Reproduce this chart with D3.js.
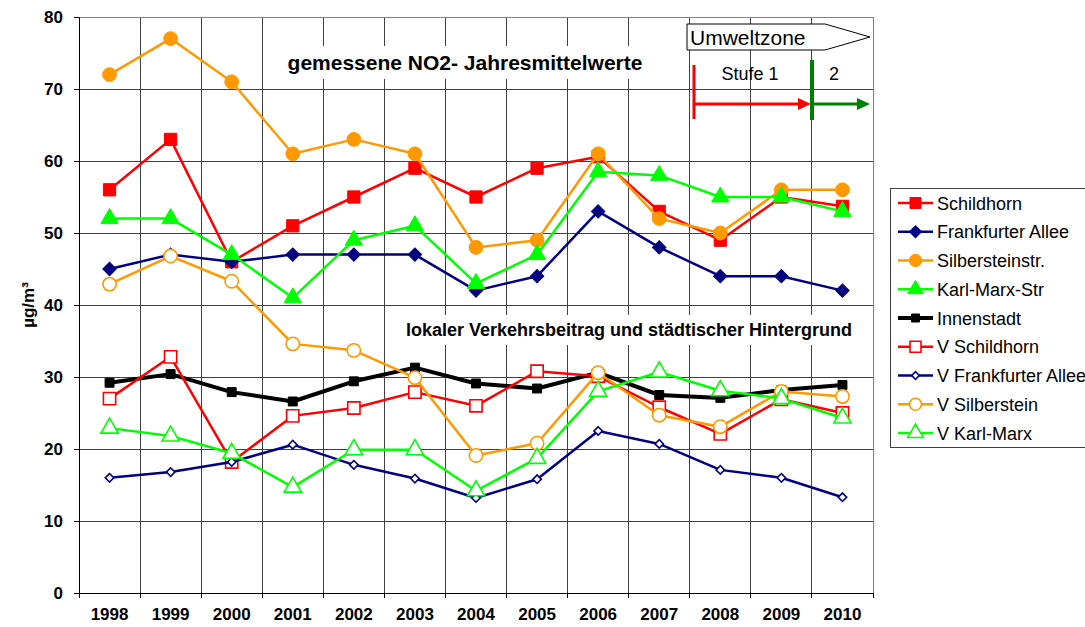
<!DOCTYPE html>
<html><head><meta charset="utf-8">
<script src="https://cdn.jsdelivr.net/npm/d3@7"></script>
<style>body{margin:0;background:#fff;font-family:"Liberation Sans",Arial,sans-serif}</style>
</head><body><svg id="c" width="1085" height="627"></svg>
<script>
const years = ["1998","1999","2000","2001","2002","2003","2004","2005","2006","2007","2008","2009","2010"];
const yTicks = [0,10,20,30,40,50,60,70,80];
const schildhorn   = [56,63,46,51,55,59,55,59,60.6,53,49,55,53.7];
const frankfurter  = [45,47,46,47,47,47,42,44,53,48,44,44,42];
const silberstein  = [72,77,71,61,63,61,48,49,61,52,50,56,56];
const karlMarx     = [52,52,47,41,49,51,43,47,58.5,58,55,55,53];
const innenstadt   = [29.2,30.4,27.9,26.6,29.4,31.3,29.1,28.4,30.6,27.5,27.1,28.2,28.9];
const vSchildhorn  = [27.0,32.8,18.2,24.6,25.7,27.9,26.0,30.8,30.1,25.8,22.1,26.9,25.0];
const vFrankfurter = [16.0,16.8,18.2,20.6,17.8,15.9,13.2,15.8,22.5,20.7,17.1,16.0,13.3];
const vSilberstein = [42.9,46.8,43.3,34.6,33.7,29.9,19.1,20.8,30.6,24.7,23.1,28.0,27.3];
const vKarlMarx    = [22.9,21.8,19.4,14.7,19.9,19.9,14.2,18.7,28.0,30.7,28.1,27.0,24.3];
const seriesNames = ["Schildhorn","Frankfurter Allee","Silbersteinstr.","Karl-Marx-Str","Innenstadt","V Schildhorn","V Frankfurter Allee","V Silberstein","V Karl-Marx"];
const seriesValues = [schildhorn,frankfurter,silberstein,karlMarx,innenstadt,vSchildhorn,vFrankfurter,vSilberstein,vKarlMarx];
const seriesColors = ["#FF0000","#000080","#FF9900","#00FF00","#000000","#FF0000","#000080","#FF9900","#00FF00"];
const seriesShapes = ["square","diamond","circle","triangle","square","square","diamond","circle","triangle"];
const seriesFilled = [true,true,true,true,true,false,false,false,false];
const seriesWidth  = [2.5,2.5,2.5,2.5,4,2.5,2.5,2.5,2.5];
const seriesSize   = [150,90,150,130,80,150,36,140,130];
const title1 = "gemessene NO2- Jahresmittelwerte";
const title2 = "lokaler Verkehrsbeitrag und städtischer Hintergrund";
const yTitle = "µg/m³";

const svg = d3.select("#c");
const L=79, R=873, T=17, B=593;
const x = d3.scaleBand().domain(years).range([L,R]);
const y = d3.scaleLinear().domain([0,80]).range([B,T]);
const gridC = "#404040";
const FONT = "Liberation Sans, Arial, sans-serif";

svg.append("g").selectAll("line").data(yTicks.filter(d=>d>0)).join("line")
  .attr("x1",L).attr("x2",R).attr("y1",d=>y(d)).attr("y2",d=>y(d))
  .attr("stroke",gridC).attr("stroke-width",1).attr("shape-rendering","crispEdges");
svg.append("g").selectAll("line").data(years.slice(1)).join("line")
  .attr("x1",d=>x(d)).attr("x2",d=>x(d)).attr("y1",T).attr("y2",B)
  .attr("stroke",gridC).attr("stroke-width",1).attr("shape-rendering","crispEdges");
svg.append("line").attr("x1",L).attr("x2",R).attr("y1",T).attr("y2",T).attr("stroke","#808080").attr("shape-rendering","crispEdges");
svg.append("line").attr("x1",R).attr("x2",R).attr("y1",T).attr("y2",B).attr("stroke","#808080").attr("shape-rendering","crispEdges");

const yAxis = svg.append("g").attr("transform",`translate(${L},0)`)
  .call(d3.axisLeft(y).tickValues(yTicks).tickSize(5).tickPadding(11));
yAxis.select(".domain").attr("stroke","#000");
yAxis.selectAll("text").attr("font-size",17).attr("font-weight","bold").attr("font-family",FONT);
const xAxis = svg.append("g").attr("transform",`translate(0,${B})`)
  .call(d3.axisBottom(x).tickSize(0).tickPadding(15));
xAxis.select(".domain").attr("stroke","#000");
xAxis.selectAll("text").attr("font-size",17).attr("font-weight","bold").attr("font-family",FONT);
svg.append("g").selectAll("line").data(years.concat(["end"])).join("line")
  .attr("x1",(d,i)=>L+i*x.step()).attr("x2",(d,i)=>L+i*x.step()).attr("y1",B).attr("y2",B+5).attr("stroke","#000").attr("shape-rendering","crispEdges");

svg.append("text").attr("transform","translate(34,305) rotate(-90)").attr("text-anchor","middle")
  .attr("font-size",17).attr("font-weight","bold").text(yTitle);

function titleBox(txt,cx,cy,fs){
  const g=svg.append("g");
  const t=g.append("text").attr("x",cx).attr("y",cy).attr("text-anchor","middle").attr("font-size",fs).attr("font-weight","bold").text(txt);
  const bb=t.node().getBBox();
  g.insert("rect","text").attr("x",bb.x-6).attr("y",bb.y-5).attr("width",bb.width+12).attr("height",bb.height+10).attr("fill","#fff");
}
titleBox(title1,465,70,21);
titleBox(title2,629,336,18);

svg.append("path").attr("d","M687,24 L825,24 L870,37 L825,50 L687,50 Z").attr("fill","#fff").attr("stroke","#000").attr("stroke-width",1);
svg.append("text").attr("x",690).attr("y",45).attr("font-size",21).text("Umweltzone");
svg.append("text").attr("x",750).attr("y",80).attr("text-anchor","middle").attr("font-size",18).text("Stufe 1");
svg.append("text").attr("x",834).attr("y",80).attr("text-anchor","middle").attr("font-size",18).text("2");
svg.append("line").attr("x1",694).attr("x2",694).attr("y1",65).attr("y2",119).attr("stroke","#FF0000").attr("stroke-width",3);
svg.append("line").attr("x1",694).attr("x2",800).attr("y1",104).attr("y2",104).attr("stroke","#FF0000").attr("stroke-width",3);
svg.append("path").attr("d","M798,98 L811,104 L798,110 Z").attr("fill","#FF0000");
svg.append("line").attr("x1",812).attr("x2",859).attr("y1",104).attr("y2",104).attr("stroke","#008000").attr("stroke-width",3);
svg.append("path").attr("d","M857,98 L870,104 L857,110 Z").attr("fill","#008000");
svg.append("line").attr("x1",812).attr("x2",812).attr("y1",60).attr("y2",120).attr("stroke","#008000").attr("stroke-width",4);

const shapeMap={square:d3.symbolSquare,diamond:d3.symbolSquare,circle:d3.symbolCircle,triangle:d3.symbolTriangle};
const rot = s => s==="diamond" ? " rotate(45)" : "";
const cx = d=>x(d)+x.bandwidth()/2;

seriesNames.forEach((name,i)=>{
  const vals=seriesValues[i];
  const pts=years.map((yr,j)=>[cx(yr),y(vals[j])]);
  const g=svg.append("g");
  g.append("path").attr("d",d3.line()(pts)).attr("fill","none").attr("stroke",seriesColors[i]).attr("stroke-width",seriesWidth[i]).attr("stroke-linejoin","round");
  const sym=d3.symbol().type(shapeMap[seriesShapes[i]]).size(seriesSize[i]);
  g.selectAll("path.m").data(pts).join("path").attr("class","m")
    .attr("d",sym).attr("transform",p=>`translate(${p[0]},${p[1]})`+rot(seriesShapes[i]))
    .attr("fill",seriesFilled[i]?seriesColors[i]:"#fff")
    .attr("stroke",seriesColors[i]).attr("stroke-width",seriesFilled[i]?1:1.6);
});

const lg=svg.append("g");
lg.append("rect").attr("x",890.5).attr("y",188.5).attr("width",220).attr("height",259).attr("fill","#fff").attr("stroke","#404040");
seriesNames.forEach((name,i)=>{
  const ly=203+i*28.75;
  lg.append("line").attr("x1",898).attr("x2",933).attr("y1",ly).attr("y2",ly).attr("stroke",seriesColors[i]).attr("stroke-width",seriesWidth[i]);
  lg.append("path").attr("d",d3.symbol().type(shapeMap[seriesShapes[i]]).size(seriesSize[i]*0.8)())
    .attr("transform",`translate(915.5,${ly})`+rot(seriesShapes[i])).attr("fill",seriesFilled[i]?seriesColors[i]:"#fff")
    .attr("stroke",seriesColors[i]).attr("stroke-width",seriesFilled[i]?1:1.6);
  lg.append("text").attr("x",937).attr("y",ly+6.5).attr("font-size",18).text(name);
});
</script></body></html>
